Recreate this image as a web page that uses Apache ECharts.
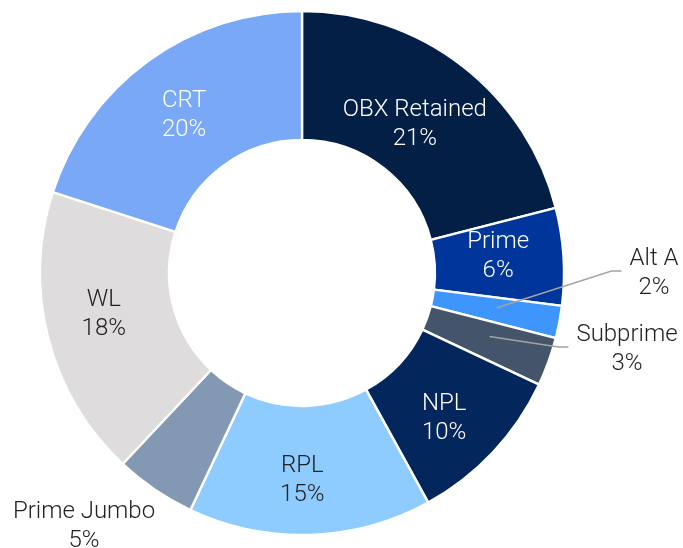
<!DOCTYPE html>
<html>
<head>
<meta charset="utf-8">
<script src="https://cdn.jsdelivr.net/npm/echarts@6/dist/echarts.min.js"></script>
<style>html,body{margin:0;padding:0;background:#fff}#c{width:683px;height:548px}</style>
</head>
<body>
<div id="c"></div>
<script>
const categories = ['OBX Retained','Prime','Alt A','Subprime','NPL','RPL','Prime Jumbo','WL','CRT'];
const values = [21, 6, 2, 3, 10, 15, 5, 18, 20];
const colors = ['#031f45','#00359b','#3e95fc','#44546a','#03265d','#8ecbff','#8298b3','#dedcdd','#79a8f6'];
const labelColors = ['#ffffff','#ffffff','#222222','#222222','#ffffff','#222222','#222222','#222222','#ffffff'];
const outsideNames = ['Alt A','Subprime','Prime Jumbo'];
const outsidePos = { 'Alt A': [654, 273], 'Subprime': [627, 349], 'Prime Jumbo': [84, 526] };
const insideOffsets = { 'OBX Retained': [-10, 10], 'Prime': [-4, -4], 'NPL': [-4, 8], 'RPL': [-6, 7], 'WL': [-4, -8], 'CRT': [0, 5] };

const CX = 302, CY = 273, R0 = 133, R1 = 262, RLINE = 198;
const font = { fontFamily: 'Roboto', fontWeight: 300, fontSize: 24, lineHeight: 29 };

const total = values.reduce((a, b) => a + b, 0);
function midPoint(idx, r) {
  let cum = 0;
  for (let i = 0; i < idx; i++) cum += values[i];
  const ang = (cum + values[idx] * 0.4) / total * 2 * Math.PI;
  return [CX + r * Math.sin(ang), CY - r * Math.cos(ang)];
}

const mainData = categories.map((n, i) => ({
  name: n, value: values[i],
  itemStyle: { color: colors[i] },
  label: { show: outsideNames.indexOf(n) < 0, color: labelColors[i], offset: insideOffsets[n] || [0, 0] }
}));
const overlayData = categories.map((n, i) => ({
  name: n, value: values[i],
  label: { show: outsideNames.indexOf(n) >= 0 },
  labelLine: { show: n === 'Alt A' || n === 'Subprime' }
}));

const chart = echarts.init(document.getElementById('c'));
chart.setOption({
  animation: false,
  series: [
    {
      type: 'pie',
      z: 2,
      center: [CX, CY],
      radius: [R0, R1],
      startAngle: 90,
      clockwise: true,
      avoidLabelOverlap: false,
      itemStyle: { borderColor: '#ffffff', borderWidth: 2.4 },
      label: Object.assign({ position: 'inside', formatter: '{b}\n{c}%', align: 'center' }, font),
      labelLine: { show: false },
      emphasis: { disabled: true },
      data: mainData
    },
    {
      type: 'pie',
      z: 5,
      center: [CX, CY],
      radius: [R0, RLINE],
      startAngle: 90,
      clockwise: true,
      silent: true,
      avoidLabelOverlap: false,
      itemStyle: { color: 'rgba(0,0,0,0)', borderWidth: 0 },
      label: Object.assign({ position: 'outside', formatter: '{b}\n{c}%', color: '#222222', align: 'center' }, font),
      labelLine: { show: true, length: 10, length2: 10, lineStyle: { color: '#a3a3a3', width: 1.6 } },
      labelLayout: function (p) {
        const name = categories[p.dataIndex];
        const pos = outsidePos[name];
        if (!pos) return {};
        const res = { x: pos[0], y: pos[1], align: 'center', verticalAlign: 'middle' };
        if (name === 'Alt A' || name === 'Subprime') {
          const s = midPoint(p.dataIndex, RLINE);
          const w = p.labelRect ? p.labelRect.width : 0;
          const ex = pos[0] - w / 2 - 8;
          const ey = pos[1] - 2;
          res.labelLinePoints = [s, [ex - 10, ey], [ex, ey]];
        }
        return res;
      },
      emphasis: { disabled: true },
      data: overlayData
    }
  ]
});
</script>
</body>
</html>
